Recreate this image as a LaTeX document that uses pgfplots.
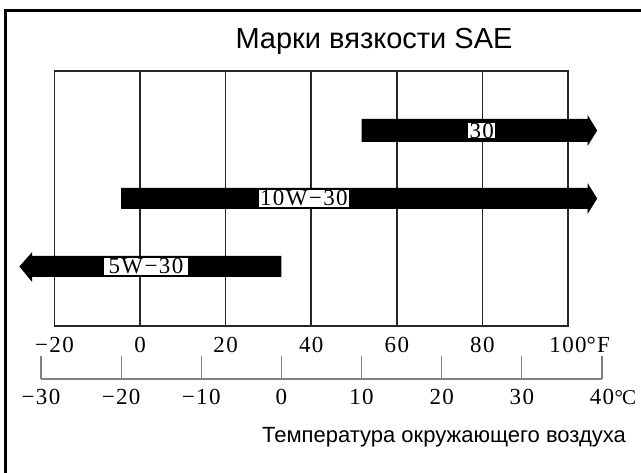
\documentclass[border=0pt]{standalone}
\usepackage{fontspec}
\setmainfont{Liberation Serif}
\newfontfamily\sansf{Liberation Sans}
\newfontfamily\tickf{Liberation Serif}[LetterSpace=6]
\usepackage{pgfplots}
\pgfplotsset{compat=1.18}
\newcommand\tickfont{\tickf\fontsize{23}{23}\selectfont}
\begin{document}
\begin{tikzpicture}
\useasboundingbox (0,0) rectangle (641pt,-473pt);
% outer frame (clipped at right and bottom in the original)
\draw[line width=3pt] (5.5pt,-473pt) -- (5.5pt,-11pt) -- (641pt,-11pt);
\node[font=\sansf\fontsize{29}{29}\selectfont] at (374pt,-41pt) {Марки вязкости SAE};
\node[font=\sansf\fontsize{22}{22}\selectfont] at (444pt,-437pt) {Температура окружающего воздуха};
% Fahrenheit grid box
\begin{axis}[at={(54.5pt,-326pt)}, anchor=south west, scale only axis,
  width=513.5pt, height=255pt, xmin=-20, xmax=100, ymin=0, ymax=1,
  ytick=\empty, xtick={-20,0,...,100},
  xticklabels={−20,0,20,40,60,80,100\rlap{°F}},
  xmajorgrids, major grid style={line width=1.6pt, black!85},
  axis line style={line width=1.6pt, black!85},
  major tick length=0pt,
  xticklabel style={font=\tickfont, anchor=base, yshift=-27pt, inner sep=0pt}]
\addplot[draw=none, forget plot] coordinates {(0,0.5) (50,0.5)};
\end{axis}
% Celsius scale with the viscosity bars
\begin{axis}[at={(41pt,-379pt)}, anchor=south west, scale only axis,
  width=561pt, height=308pt, xmin=-30, xmax=40, ymin=-379, ymax=-71,
  clip=false, axis x line=bottom, axis y line=none,
  axis line style={-, line width=1.2pt, black!50},
  xtick={-30,-20,...,40},
  xticklabels={−30,−20,−10,0,10,20,30,40\rlap{\kern0.5pt{\fontsize{21}{21}\selectfont°\kern-1pt C}}},
  tick align=inside, major tick length=23pt,
  xtick style={line width=1.2pt, black!50},
  xticklabel style={font=\tickfont, anchor=base, yshift=-25pt, inner sep=0pt}]
% SAE 30: from 10 C upward
\addplot[fill=black, draw=none] coordinates {(10,-119) (38.2,-119) (38.2,-115) (39.4,-130.5) (38.2,-146) (38.2,-142) (10,-142)};
% SAE 10W-30: from -20 C upward
\addplot[fill=black, draw=none] coordinates {(-20,-188) (38.2,-188) (38.2,-183) (39.4,-198.5) (38.2,-214) (38.2,-209) (-20,-209)};
% SAE 5W-30: up to 0 C
\addplot[fill=black, draw=none] coordinates {(0,-256) (-31.1,-256) (-31.1,-252) (-32.7,-266.5) (-31.1,-282) (-31.1,-277) (0,-277)};
\node[fill=white, inner xsep=1.5pt, inner ysep=0pt, font=\tickfont] at (axis cs:25,-130.5) {30};
\node[fill=white, inner sep=1pt, minimum width=85pt, font=\tickfont] at (axis cs:2.8,-198.5) {10W−30};
\node[fill=white, inner sep=1pt, minimum width=84pt, font=\tickfont] at (axis cs:-16.9,-266.5) {5W−30};
\end{axis}
\end{tikzpicture}
\end{document}
